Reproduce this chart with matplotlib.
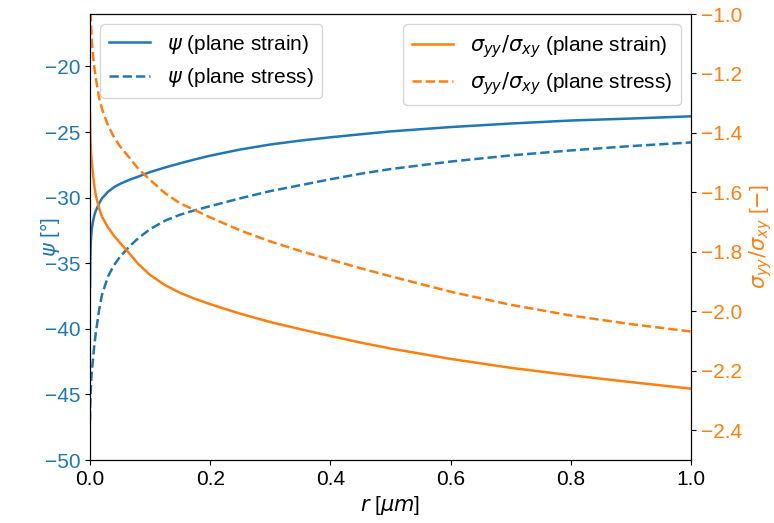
import matplotlib
matplotlib.use("Agg")
import matplotlib.pyplot as plt

plt.rcParams['font.family'] = ['Liberation Sans', 'DejaVu Sans']
plt.rcParams['mathtext.fontset'] = 'dejavusans'

# data
r = [0.0, 0.0005, 0.001, 0.002, 0.003, 0.005, 0.0075, 0.01, 0.015, 0.02, 0.03, 0.04,
     0.05, 0.065, 0.08, 0.1, 0.125, 0.15, 0.175, 0.2, 0.25, 0.3, 0.35, 0.4, 0.45, 0.5,
     0.6, 0.7, 0.8, 0.9, 1.0]
psi_strain = [-36.8, -34.6, -33.7, -32.9, -32.4, -31.8, -31.3, -30.97, -30.45, -30.05, -29.55, -29.2,
              -28.95, -28.65, -28.4, -28.05, -27.7, -27.38, -27.08, -26.8, -26.33, -25.95, -25.65, -25.4,
              -25.17, -24.95, -24.62, -24.35, -24.12, -23.97, -23.8]
psi_stress = [-47.0, -45.6, -44.9, -43.9, -43.3, -42.3, -41.1, -40.2, -38.6, -37.4, -36.0, -35.15,
              -34.5, -33.75, -33.1, -32.4, -31.75, -31.3, -30.95, -30.65, -30.05, -29.5, -29.05, -28.6,
              -28.18, -27.82, -27.25, -26.78, -26.4, -26.07, -25.79]
ratio_strain = [-1.336, -1.40, -1.435, -1.475, -1.50, -1.54, -1.583, -1.612, -1.653, -1.682, -1.718, -1.746,
                -1.77, -1.804, -1.84, -1.878, -1.912, -1.938, -1.958, -1.976, -2.008, -2.036, -2.06, -2.083,
                -2.105, -2.125, -2.16, -2.19, -2.215, -2.238, -2.26]
ratio_stress = [-0.9, -0.97, -1.0, -1.05, -1.09, -1.14, -1.185, -1.22, -1.28, -1.32, -1.375, -1.415,
                -1.445, -1.482, -1.52, -1.558, -1.603, -1.637, -1.66, -1.684, -1.728, -1.765, -1.797, -1.826,
                -1.855, -1.882, -1.934, -1.978, -2.014, -2.043, -2.068]

c_blue = '#1f77b4'
c_orange = '#ff7f0e'
fs_tick = 15
fs_leg = 15
fs_lab = 15

fig = plt.figure(figsize=(7.74, 5.23), dpi=100)
ax = fig.add_axes([90/774, 63/523, 601/774, 446/523])
ax2 = ax.twinx()

lw = 1.8
l1, = ax.plot(r, psi_strain, color=c_blue, lw=lw, ls='-', label=r'$\psi$ (plane strain)')
l2, = ax.plot(r, psi_stress, color=c_blue, lw=lw, ls='--', label=r'$\psi$ (plane stress)')
l3, = ax2.plot(r, ratio_strain, color=c_orange, lw=lw, ls='-', label=r'$\sigma_{yy}/\sigma_{xy}$ (plane strain)')
l4, = ax2.plot(r, ratio_stress, color=c_orange, lw=lw, ls='--', label=r'$\sigma_{yy}/\sigma_{xy}$ (plane stress)')

ax.set_xlim(0, 1)
ax.set_ylim(-50, -16)
ax2.set_ylim(-2.5, -1.0)
ax.set_xticks([0.0, 0.2, 0.4, 0.6, 0.8, 1.0])
ax.set_yticks([-50, -45, -40, -35, -30, -25, -20])
ax2.set_yticks([-2.4, -2.2, -2.0, -1.8, -1.6, -1.4, -1.2, -1.0])

ax.tick_params(axis='x', labelsize=fs_tick)
ax.tick_params(axis='y', labelsize=fs_tick, labelcolor=c_blue)
ax2.tick_params(axis='y', labelsize=fs_tick, labelcolor=c_orange)

ax.set_xlabel(r'$r$ [$\mu m$]', fontsize=fs_lab)
ax.set_ylabel(r'$\psi$ [°]', fontsize=fs_lab, color=c_blue)
ax.yaxis.set_label_coords(-0.047, 0.5)
ax2.set_ylabel(r'$\sigma_{yy}/\sigma_{xy}$ [$-$]', fontsize=fs_lab, color=c_orange)

ax.legend(handles=[l1, l2], loc='upper left', fontsize=fs_leg)
ax2.legend(handles=[l3, l4], loc='upper right', fontsize=fs_leg)

fig.savefig('out.png', dpi=100)
